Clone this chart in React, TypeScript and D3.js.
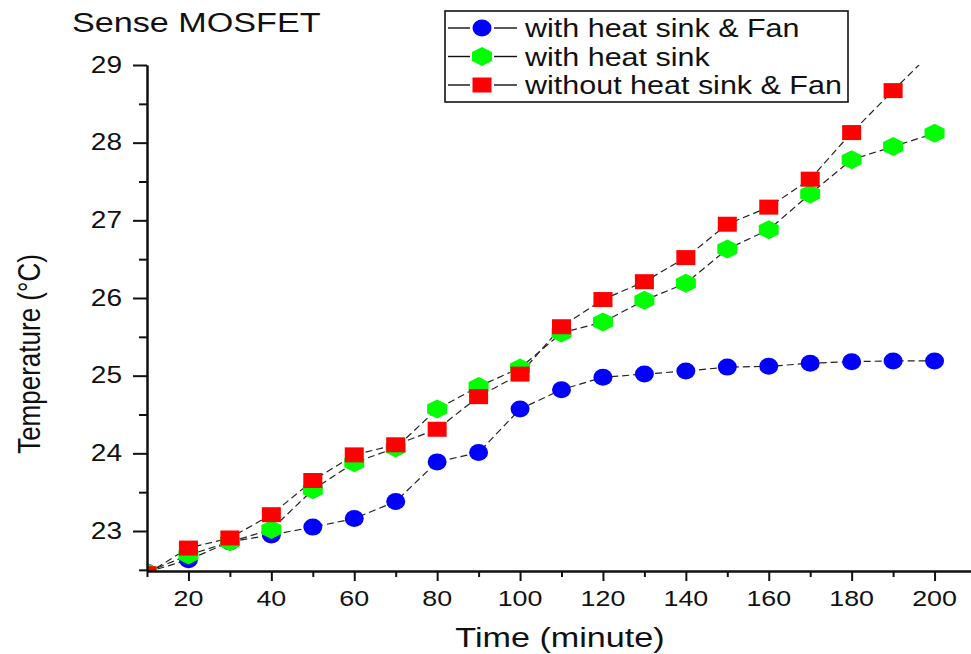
import React, { useRef, useEffect } from "react";
import * as d3 from "d3";

// time points (minute)
const times = [10, 20, 30, 40, 50, 60, 70, 80, 90, 100, 110, 120, 130, 140, 150, 160, 170, 180, 190, 200];

// temperature readings (°C)
const withSinkFan = [22.47, 22.63, 22.86, 22.95, 23.05, 23.16, 23.38, 23.89, 24.01, 24.57, 24.82, 24.98, 25.02, 25.06, 25.11, 25.12, 25.16, 25.18, 25.19, 25.19];
const withSink = [22.47, 22.69, 22.86, 23.02, 23.53, 23.88, 24.07, 24.57, 24.86, 25.1, 25.55, 25.69, 25.97, 26.19, 26.63, 26.88, 27.34, 27.78, 27.95, 28.12];
const withoutSinkFan = [22.45, 22.78, 22.91, 23.21, 23.65, 23.98, 24.11, 24.31, 24.73, 25.02, 25.63, 25.98, 26.21, 26.52, 26.95, 27.17, 27.53, 28.13, 28.67, 29.2];

const seriesNames = ["with heat sink & Fan", "with heat sink", "without heat sink & Fan"];
const seriesColors = ["#0000ff", "#00ff00", "#ff0000"];

const yMajor = [23, 24, 25, 26, 27, 28, 29];
const yMinor = [22.5, 23.5, 24.5, 25.5, 26.5, 27.5, 28.5];
const xMajor = [20, 40, 60, 80, 100, 120, 140, 160, 180, 200];
const xMinor = [10, 30, 50, 70, 90, 110, 130, 150, 170, 190, 210];

const W = 971;
const H = 654;
const SX = 1.22; // the original picture is stretched sideways
const FONT = "'Liberation Sans', Arial, sans-serif";
const INK = "#111";

const App = () => {
  const svgRef = useRef();

  useEffect(() => {
    const svg = d3.select(svgRef.current);
    svg.selectAll("*").remove();

    const x = d3.scaleLinear().domain([10, 210]).range([147, 976]);
    const y = d3.scaleLinear().domain([22.485, 29]).range([571, 65]);

    // markers
    const drawMarker = (g, k, cx, cy) => {
      if (k === 0) {
        g.append("ellipse").attr("cx", cx).attr("cy", cy).attr("rx", 9.5).attr("ry", 8.5).attr("fill", seriesColors[k]);
      } else if (k === 1) {
        const pts = [[0, -9.5], [10, -4.5], [10, 4.5], [0, 9.5], [-10, 4.5], [-10, -4.5]];
        g.append("polygon")
          .attr("points", pts.map((p) => `${cx + p[0]},${cy + p[1]}`).join(" "))
          .attr("fill", seriesColors[k]);
      } else {
        g.append("rect").attr("x", cx - 9.5).attr("y", cy - 7.5).attr("width", 19).attr("height", 15).attr("fill", seriesColors[k]);
      }
    };

    svg.append("defs").append("clipPath").attr("id", "plot")
      .append("rect").attr("x", 147).attr("y", 65).attr("width", W - 147).attr("height", 571 - 65);

    const plot = svg.append("g").attr("clip-path", "url(#plot)");
    const all = [withSinkFan, withSink, withoutSinkFan];
    const line = d3.line().x((d) => x(d[0])).y((d) => y(d[1]));

    all.forEach((vals, k) => {
      const pts = times.map((t, i) => [t, vals[i]]);
      plot.append("path")
        .attr("d", line(pts))
        .attr("fill", "none")
        .attr("stroke", "#222")
        .attr("stroke-width", 1.2)
        .attr("stroke-dasharray", "7,4");
    });
    all.forEach((vals, k) => {
      const g = plot.append("g");
      times.forEach((t, i) => drawMarker(g, k, x(t), y(vals[i])));
    });

    // axes
    const axisStyle = (g) => {
      g.selectAll("path, line").attr("stroke", INK).attr("stroke-width", 2);
      g.selectAll("text").remove();
    };
    svg.append("g").attr("transform", "translate(147,0)")
      .call(d3.axisLeft(y).tickValues(yMajor).tickSize(14).tickSizeOuter(0)).call(axisStyle);
    svg.append("g").attr("transform", "translate(147,0)")
      .call(d3.axisLeft(y).tickValues(yMinor).tickSize(8).tickSizeOuter(0)).call(axisStyle);
    svg.append("g").attr("transform", "translate(0,571)")
      .call(d3.axisBottom(x).tickValues(xMajor).tickSize(10).tickSizeOuter(0)).call(axisStyle);
    svg.append("g").attr("transform", "translate(0,571)")
      .call(d3.axisBottom(x).tickValues(xMinor).tickSize(6).tickSizeOuter(0)).call(axisStyle);

    const label = (tx, ty, str, size, anchor, extra = "") =>
      svg.append("text")
        .attr("transform", `translate(${tx},${ty}) scale(${SX},1)${extra}`)
        .attr("text-anchor", anchor)
        .attr("font-family", FONT)
        .attr("font-size", size)
        .attr("fill", INK)
        .text(str);

    yMajor.forEach((v) => label(122, y(v) + 7.5, String(v), 23, "end"));
    xMajor.forEach((v) => label(x(v), 606, String(v), 22, "middle"));

    label(72, 32, "Sense MOSFET", 28, "start");
    label(560, 647, "Time (minute)", 28, "middle");
    label(40, 354, "Temperature (°C)", 26, "middle", " rotate(-90)");

    // legend
    const lg = svg.append("g");
    lg.append("rect").attr("x", 445).attr("y", 11).attr("width", 403).attr("height", 91)
      .attr("fill", "#fff").attr("stroke", INK).attr("stroke-width", 1.6);
    seriesNames.forEach((name, k) => {
      const cy = 28 + k * 28.5;
      lg.append("line").attr("x1", 448).attr("x2", 470).attr("y1", cy).attr("y2", cy).attr("stroke", INK).attr("stroke-width", 1.4);
      lg.append("line").attr("x1", 494).attr("x2", 517).attr("y1", cy).attr("y2", cy).attr("stroke", INK).attr("stroke-width", 1.4);
      drawMarker(lg, k, 482, cy);
      label(525, cy + 9, name, 25, "start");
    });
  }, []);

  return (
    <svg
      ref={svgRef}
      width={W}
      height={H}
      style={{ position: "absolute", left: 0, top: 0, background: "#fff" }}
    ></svg>
  );
};

export default App;
